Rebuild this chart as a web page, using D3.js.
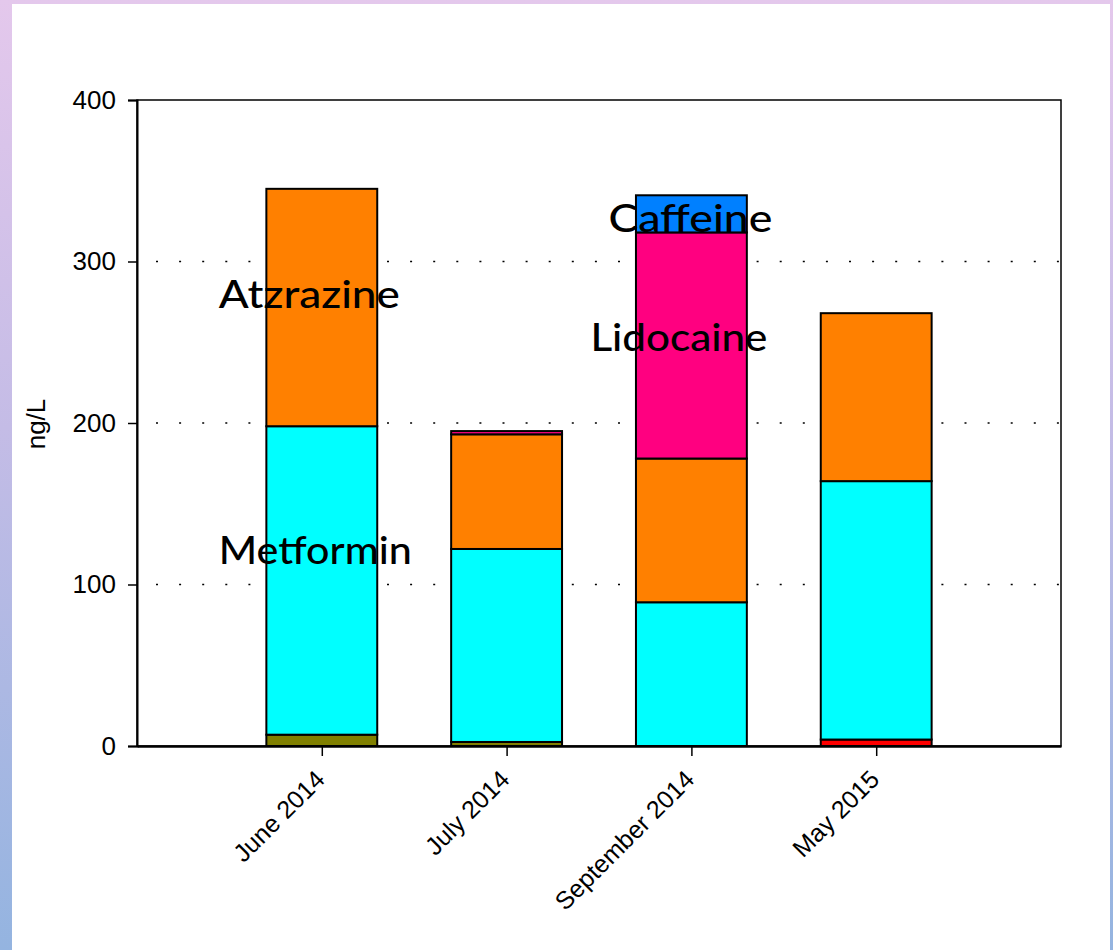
<!DOCTYPE html>
<html>
<head>
<meta charset="utf-8">
<script src="https://cdn.jsdelivr.net/npm/d3@7"></script>
<style>
  html, body { margin: 0; padding: 0; }
  body {
    width: 1113px; height: 950px; overflow: hidden;
    background: linear-gradient(to bottom, #e4c8ec 0%, #c4bce6 45%, #94b4e0 100%);
  }
  #panel { position: absolute; left: 12px; top: 4px; width: 1098px; height: 946px; background: #fff; }
  svg { position: absolute; left: 0; top: 0; }
</style>
</head>
<body>
<div id="panel"></div>
<svg id="chart" width="1113" height="950"></svg>
<script>
// categories and stacked series (ng/L)
const categories = ["June 2014", "July 2014", "September 2014", "May 2015"];
const olive     = [7, 2.5, 0, 0];
const red       = [0, 0, 0, 4];
const metformin = [191, 119.5, 89, 160];
const atrazine  = [147, 71, 89, 104];
const lidocaine = [0, 2, 140, 0];
const caffeine  = [0, 0, 23, 0];
const yTicks = [0, 100, 200, 300, 400];

// text labels placed on the bars: category, value of baseline
const labelNames = ["Atzrazine", "Metformin", "Lidocaine", "Caffeine"];
const labelCats  = ["June 2014", "June 2014", "September 2014", "September 2014"];
const labelVals  = [271, 113, 244.5, 318];

const keys = ["olive", "red", "metformin", "atrazine", "lidocaine", "caffeine"];
const colors = {olive: "#808000", red: "#ff0000", metformin: "#00ffff",
                atrazine: "#ff8000", lidocaine: "#ff0080", caffeine: "#0080ff"};

const rows = categories.map((c, i) => ({
  cat: c, olive: olive[i], red: red[i], metformin: metformin[i],
  atrazine: atrazine[i], lidocaine: lidocaine[i], caffeine: caffeine[i]
}));

const m = {left: 137, right: 1061, top: 100, bottom: 746};
const font = "Liberation Sans, Arial, sans-serif";

const svg = d3.select("#chart");

const x = d3.scalePoint().domain(categories).range([m.left, m.right]).padding(1);
const barW = x.step() * 0.6;
const y = d3.scaleLinear().domain([0, 400]).range([m.bottom, m.top]);

// dotted grid lines
svg.append("g")
  .selectAll("line")
  .data([100, 200, 300])
  .join("line")
  .attr("x1", m.left + 19).attr("x2", m.right)
  .attr("y1", d => y(d)).attr("y2", d => y(d))
  .attr("stroke", "#000")
  .attr("stroke-width", 1.5)
  .attr("stroke-dasharray", "2 21.1");

// stacked bars
const series = d3.stack().keys(keys)(rows);

svg.append("g")
  .selectAll("g")
  .data(series)
  .join("g")
  .attr("fill", d => colors[d.key])
  .selectAll("rect")
  .data(d => d.filter(s => s[1] - s[0] > 0))
  .join("rect")
  .attr("x", d => x(d.data.cat) - barW / 2)
  .attr("width", barW)
  .attr("y", d => y(d[1]))
  .attr("height", d => y(d[0]) - y(d[1]))
  .attr("stroke", "#000")
  .attr("stroke-width", 2);

// frame
svg.append("rect")
  .attr("x", m.left).attr("y", m.top)
  .attr("width", m.right - m.left).attr("height", m.bottom - m.top)
  .attr("fill", "none").attr("stroke", "#000").attr("stroke-width", 1.5);

// y axis
const yAxis = svg.append("g")
  .attr("transform", `translate(${m.left},0)`)
  .call(d3.axisLeft(y).tickValues(yTicks).tickSize(9).tickPadding(12));
yAxis.select(".domain").attr("stroke-width", 2);
yAxis.selectAll(".tick line").attr("stroke-width", 1.5);
yAxis.selectAll("text")
  .style("font-family", font)
  .style("font-size", "26px")
  .attr("fill", "#000");

// x axis
const xAxis = svg.append("g")
  .attr("transform", `translate(0,${m.bottom})`)
  .call(d3.axisBottom(x).tickSize(10).tickSizeOuter(0));
xAxis.select(".domain").attr("stroke-width", 2.5);
xAxis.selectAll(".tick line").attr("stroke-width", 1.5);
xAxis.selectAll("text")
  .style("font-family", font)
  .style("font-size", "25px")
  .attr("fill", "#000")
  .attr("text-anchor", "end")
  .attr("dy", null)
  .attr("transform", "translate(-9,22) rotate(-45)")
  .attr("x", 0).attr("y", 0)
  .attr("dominant-baseline", "hanging");

// y label
svg.append("text")
  .attr("transform", "translate(45,424) rotate(-90)")
  .attr("text-anchor", "middle")
  .style("font-family", font)
  .style("font-size", "26px")
  .text("ng/L");

// labels on bars
const labelDx = [-103, -103, -101, -83];
const labelLen = [181, 193, 177, 164];
svg.append("g")
  .selectAll("text")
  .data(labelNames)
  .join("text")
  .attr("x", (d, i) => x(labelCats[i]) + labelDx[i])
  .attr("y", (d, i) => y(labelVals[i]))
  .attr("textLength", (d, i) => labelLen[i])
  .attr("lengthAdjust", "spacingAndGlyphs")
  .style("font-family", "Lato, Noto Sans, sans-serif")
  .style("font-size", "38px")
  .style("font-weight", 500)
  .attr("fill", "#000")
  .text(d => d);
</script>
</body>
</html>
